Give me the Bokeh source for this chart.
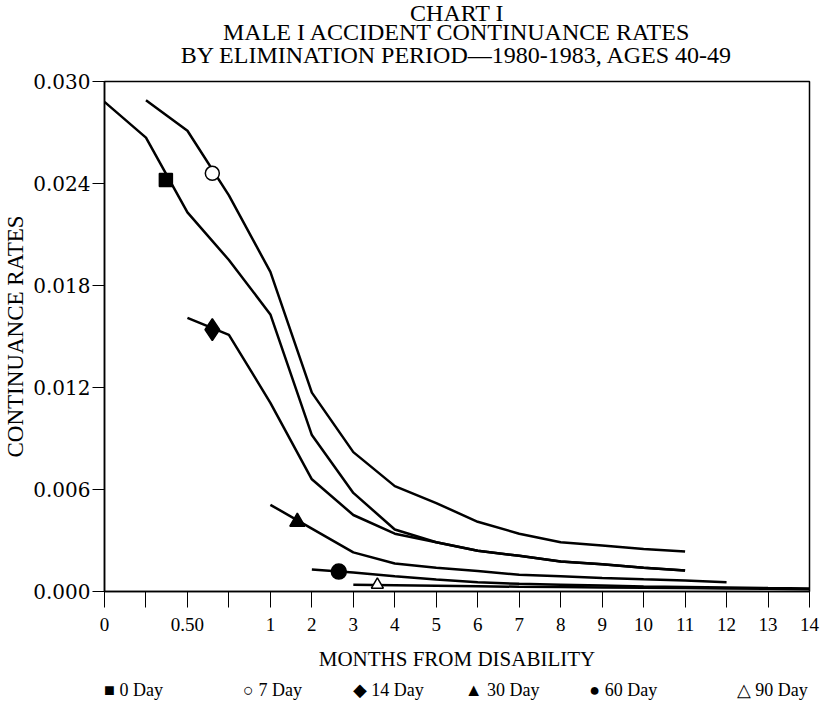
from bokeh.plotting import figure
from bokeh.models import Range1d, FixedTicker, Title, LinearAxis
from bokeh.embed import file_html
from bokeh.resources import INLINE

# ---- data (months from disability, continuance rate) ----
tick_months = [0, 0.25, 0.5, 0.75, 1, 2, 3, 4, 5, 6, 7, 8, 9, 10, 11, 12, 13, 14]
tick_labels = ["0", "", "0.50", "", "1", "2", "3", "4", "5", "6", "7", "8",
               "9", "10", "11", "12", "13", "14"]
y_ticks = [0.0, 0.006, 0.012, 0.018, 0.024, 0.030]
y_labels = ["0.000", "0.006", "0.012", "0.018", "0.024", "0.030"]

day0_x = [0, 0.25, 0.5, 0.75, 1, 2, 3, 4, 5, 6, 7, 8, 9, 10, 11]
day0_y = [0.0288, 0.0267, 0.0223, 0.0195, 0.0163, 0.0092, 0.0058, 0.00365,
          0.0029, 0.0024, 0.0021, 0.00176, 0.0016, 0.0014, 0.00124]

day7_x = [0.25, 0.5, 0.75, 1, 2, 3, 4, 5, 6, 7, 8, 9, 10, 11]
day7_y = [0.0289, 0.0271, 0.0233, 0.0188, 0.0117, 0.0082, 0.0062, 0.0052,
          0.0041, 0.0034, 0.0029, 0.0027, 0.0025, 0.00235]

day14_x = [0.5, 0.75, 1, 2, 3, 4, 5, 6, 7, 8, 9, 10, 11]
day14_y = [0.0161, 0.0151, 0.0111, 0.0066, 0.0045, 0.0034, 0.0029, 0.0024,
           0.0021, 0.00176, 0.0016, 0.0014, 0.00124]

day30_x = [1, 2, 3, 4, 5, 6, 7, 8, 9, 10, 11, 12]
day30_y = [0.0051, 0.0037, 0.0023, 0.00165, 0.0014, 0.0012, 0.00098, 0.0009,
           0.0008, 0.00072, 0.00065, 0.00055]

day60_x = [2, 3, 4, 5, 6, 7, 8, 9, 10, 11, 12, 13, 14]
day60_y = [0.0013, 0.00112, 0.0009, 0.0007, 0.00055, 0.00045, 0.0004,
           0.00035, 0.0003, 0.00027, 0.00024, 0.0002, 0.00017]

day90_x = [3, 4, 5, 6, 7, 8, 9, 10, 11, 12, 13, 14]
day90_y = [0.0004, 0.00037, 0.00034, 0.00031, 0.00028, 0.00026, 0.00024,
           0.00022, 0.0002, 0.00018, 0.00016, 0.00013]

series_names = ["0 Day", "7 Day", "14 Day", "30 Day", "60 Day", "90 Day"]
legend_symbols = ["\u25A0", "\u25CB", "\u25C6", "\u25B2", "\u25CF", "\u25B3"]
marker_x = [0.37, 0.65, 0.65, 1.65, 2.65, 3.58]
marker_y = [0.0242, 0.0246, 0.0154, 0.0041, 0.00117, 0.0004]
marker_types = ["square", "circle", "diamond", "triangle", "circle", "triangle"]
marker_fill = ["black", "white", "black", "black", "black", "white"]
marker_size = [13, 14, 22, 15, 15, 12]

title_lines = ["CHART I", "MALE I ACCIDENT CONTINUANCE RATES",
               "BY ELIMINATION PERIOD\u20141980-1983, AGES 40-49"]


def pos(m):
    # axis: 0-1 month in quarter steps, then whole months, equally spaced ticks
    return 4 * m if m <= 1 else m + 3


FONT = "Liberation Serif"
WIDE = "DejaVu Serif"

p = figure(frame_width=705, frame_height=510, output_backend="svg",
           toolbar_location=None,
           x_range=Range1d(0, pos(14)), y_range=Range1d(0, 0.030),
           min_border_left=102, min_border_right=16, min_border_top=79,
           min_border_bottom=4)
p.background_fill_color = "white"
p.border_fill_color = "white"
p.outline_line_color = "black"
p.outline_line_width = 1.5
p.grid.visible = False

xa = p.below[0]
ya = p.left[0]

# third title line: label of a bare axis just above the frame
top_axis = LinearAxis(ticker=FixedTicker(ticks=[]), axis_line_color=None,
                      major_tick_line_color=None, minor_tick_line_color=None,
                      major_tick_out=0, major_tick_in=0, major_label_standoff=0,
                      axis_label=title_lines[2], axis_label_standoff=14,
                      axis_label_text_font=FONT, axis_label_text_font_size="24px",
                      axis_label_text_font_style="normal",
                      axis_label_text_color="black")
p.add_layout(top_axis, "above")

# first two title lines (first added sits closest to the plot)
for txt, so in [(title_lines[1], -13), (title_lines[0], -5)]:
    t = Title(text=txt, align="center", text_font=FONT,
              text_font_size="24px", text_font_style="normal",
              text_color="black")
    try:
        t.standoff = so
    except Exception:
        t.standoff = 0
    p.add_layout(t, "above")

xa.ticker = FixedTicker(ticks=[pos(m) for m in tick_months])
xa.major_label_overrides = {pos(m): lab for m, lab in zip(tick_months, tick_labels)}
xa.axis_label = "MONTHS FROM DISABILITY"
ya.ticker = FixedTicker(ticks=y_ticks)
ya.major_label_overrides = {v: lab for v, lab in zip(y_ticks, y_labels)}
ya.axis_label = "CONTINUANCE RATES"

for ax in (xa, ya):
    ax.axis_line_color = "black"
    ax.axis_line_width = 1.5
    ax.major_tick_line_color = "black"
    ax.major_tick_line_width = 1
    ax.major_tick_in = 0
    ax.minor_tick_line_color = None
    ax.major_label_text_color = "black"
    ax.axis_label_text_font_style = "normal"
    ax.axis_label_text_color = "black"
xa.major_label_text_font = FONT
xa.major_label_text_font_size = "19px"
xa.axis_label_text_font = FONT
xa.axis_label_text_font_size = "21px"
xa.major_tick_out = 16
xa.major_label_standoff = 10
xa.axis_label_standoff = 13

ya.major_label_text_font = WIDE
ya.major_label_text_font_size = "20px"
ya.axis_label_text_font = FONT
ya.axis_label_text_font_size = "23px"
ya.major_tick_out = 12
ya.major_label_standoff = 2
ya.axis_label_standoff = 2

all_x = [day0_x, day7_x, day14_x, day30_x, day60_x, day90_x]
all_y = [day0_y, day7_y, day14_y, day30_y, day60_y, day90_y]
for i in range(6):
    p.line([pos(m) for m in all_x[i]], all_y[i], line_color="black",
           line_width=2.5)
for i in range(6):
    p.scatter([pos(marker_x[i])], [marker_y[i]], marker=marker_types[i],
              size=marker_size[i], fill_color=marker_fill[i],
              line_color="black", line_width=1.5)

# key row under the axis title (placed in axis-index units)
key_slots = [0.7, 4.05, 6.84, 9.59, 12.51, 16.1]
key_axis = LinearAxis(ticker=FixedTicker(ticks=key_slots), axis_line_color=None,
                      major_tick_line_color=None, minor_tick_line_color=None,
                      major_tick_out=0, major_tick_in=0, major_label_standoff=6,
                      major_label_overrides={s: f"{sym} {name}" for s, sym, name in
                                             zip(key_slots, legend_symbols,
                                                 series_names)},
                      major_label_text_font=FONT,
                      major_label_text_font_size="18px",
                      major_label_text_color="black")
p.add_layout(key_axis, "below")

open("out.html", "w").write(file_html(p, INLINE))
